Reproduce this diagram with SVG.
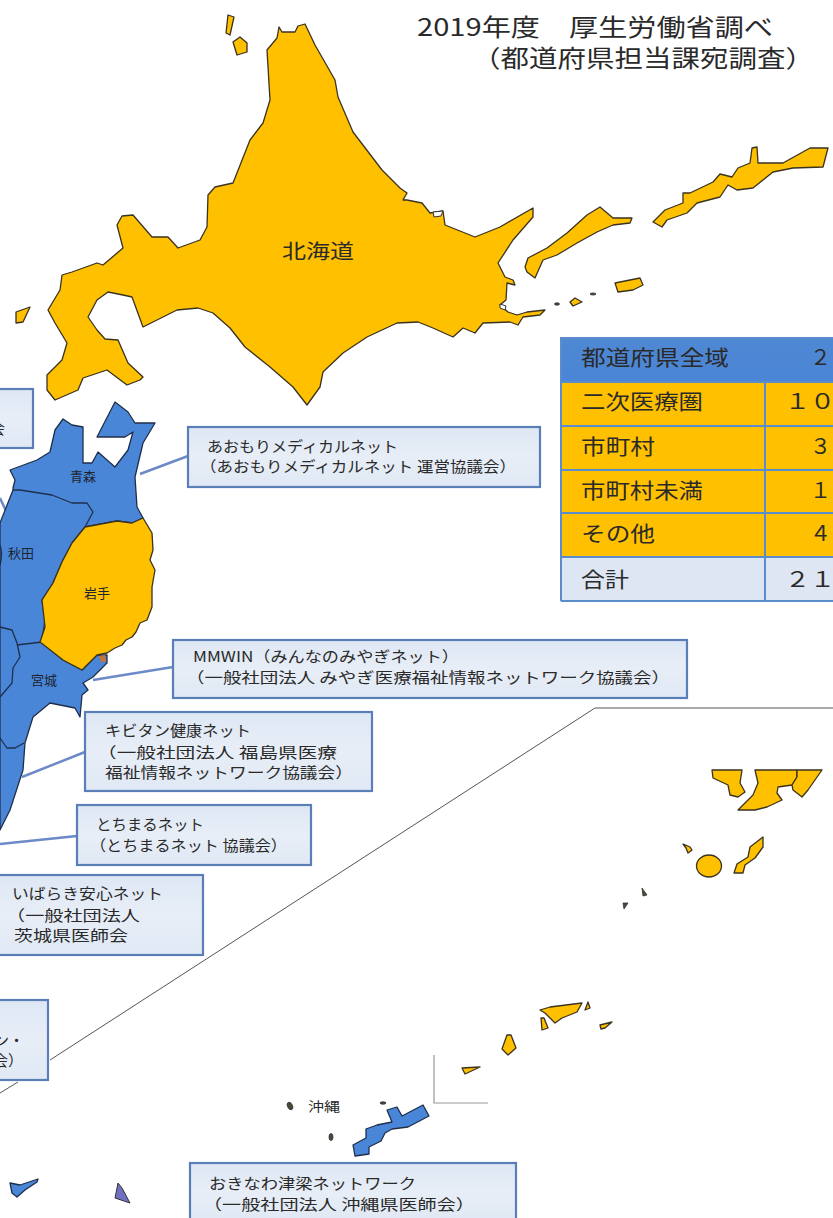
<svg xmlns="http://www.w3.org/2000/svg" width="833" height="1218" viewBox="0 0 833 1218">
<defs>
<linearGradient id="boxFill" x1="0" y1="0" x2="0" y2="1"><stop offset="0" stop-color="#dde7f4"/><stop offset="0.5" stop-color="#e8eef7"/><stop offset="1" stop-color="#dfe8f4"/></linearGradient>
<linearGradient id="headFill" x1="0" y1="0" x2="0" y2="1"><stop offset="0" stop-color="#4f88d2"/><stop offset="1" stop-color="#4a85d6"/></linearGradient>
<filter id="soft" x="-5%" y="-5%" width="110%" height="110%"><feGaussianBlur stdDeviation="0.55"/></filter>
</defs>
<style>
text{font-family:"Noto Sans CJK JP","Noto Sans",sans-serif;fill:#2a2a2a}
.map{filter:url(#soft)}
.o{fill:#ffc000;stroke:#3a3320;stroke-width:1.3;stroke-linejoin:round}
.b{fill:#4a86d8;stroke:#1f2f4a;stroke-width:1.3;stroke-linejoin:round}
.d{fill:#4a4a3a;stroke:#333;stroke-width:.8}
.w{fill:#fff;stroke:#333;stroke-width:1}
.inner{fill:none;stroke:#1f2f4a;stroke-width:1.3;stroke-linejoin:round}
.box{fill:url(#boxFill);stroke:#5a7fb8;stroke-width:2.2}
.t{font-size:15px}
.lab{font-size:13px;fill:#1c2430}
.conn{stroke:#6c8ac8;stroke-width:2.5;fill:none}
.thin{stroke:#555;stroke-width:1;fill:none}
.gray{stroke:#999;stroke-width:1.2;fill:none}
.cell{stroke:#5b8ccb;stroke-width:2}
.tt{font-size:21px}
.ttl{font-size:24px}
</style>

<g id="connectors">
<path class="conn" d="M140 474L188 456"/>
<path class="conn" d="M93 680L173 667"/>
<path class="conn" d="M22 777L85 752"/>
<path class="conn" d="M0 844L77 836"/>
<path class="conn" d="M0 498L7 513"/>
<path class="thin" d="M0 1093L18 1082M50 1060L595 708H833"/>
<path class="gray" d="M434 1055V1103H488"/>
</g>

<g id="hokkaido">
<g class="map">
<path class="o" d="M279 27L282 32L295 32L298 26L305 24L315 45L335 80L338 97L353 132L382 170L400 188L407 193L403 200L407 200L422 203L430 213L443 211L445 225L475 237L500 227L533 208L533 217L513 240L498 263L505 277L513 280L515 285L507 283L506 300L500 305L508 312L517 315L527 312L545 310L540 315L523 317L518 325L510 322L483 323L475 333L463 328L453 337L433 328L418 322L397 323L367 337L343 353L323 372L320 387L307 405L293 387L270 367L245 347L230 328L213 313L198 308L177 310L143 327L132 297L123 295L108 292L97 300L88 317L97 330L105 339L118 340L128 363L143 377L140 380L127 385L107 370L83 378L78 390L55 400L47 390L47 375L62 360L67 343L55 323L48 310L60 290L62 275L72 272L97 263L103 265L123 248L117 225L122 216L133 215L152 237L168 237L178 248L200 240L207 227L208 195L215 187L233 183L250 140L263 123L270 100L267 50L277 38Z"/>
<path class="w" d="M433 212L443 211L441 216L434 217Z"/>
<path class="w" d="M500 304L506 306L505 310L500 308Z"/>
<path class="o" d="M228 15L234 17L230 35L226 33Z"/>
<path class="o" d="M233 42L240 37L247 43L247 52L237 55Z"/>
<path class="o" d="M16 312L30 307L23 322L16 323Z"/>
<path class="o" d="M525 267L528 258L547 248L567 233L587 215L600 207L613 218L632 218L630 223L613 225L597 232L577 243L557 255L543 260L535 278L527 272Z"/>
<path class="o" d="M653 222L665 210L683 203L683 193L690 193L713 182L720 174L732 177L738 168L750 163L752 148L757 147L758 163L783 163L810 148L828 148L823 167L793 168L773 172L753 188L737 190L728 185L720 197L697 203L687 213L667 220L662 227Z"/>
<path class="o" d="M615 283L640 278L643 285L633 290L618 292Z"/>
<path class="o" d="M570 302L575 298L582 302L573 306Z"/>
<ellipse class="d" cx="557" cy="304" rx="2.5" ry="1.2"/>
<ellipse class="d" cx="593" cy="294" rx="3" ry="1"/>
</g>
<text x="318" y="259" font-size="20" text-anchor="middle" textLength="72" lengthAdjust="spacingAndGlyphs">北海道</text>
</g>

<g id="tohoku-blue">
<g class="map">
<path class="b" d="M0 523L13 490L13 488L15 480L10 470L37 460L50 452L55 430L63 419L72 425L83 427L83 463L92 463L98 452L115 467L128 450L133 432L125 437L97 437L115 402L128 412L135 423L155 423L143 443L135 477L137 507L143 518L132 523L117 521L85 527L72 543L62 562L53 583L42 600L45 620L42 640L63 660L82 670L97 655L107 655L107 663L93 677L83 683L88 690L82 695L80 717L75 708L50 703L33 717L25 743L23 770L10 810L0 830Z"/>
<path class="inner" d="M13 490L20 490L52 495L72 503L87 503L93 512L85 527"/>
<path class="inner" d="M0 627L12 630L17 643L20 657L13 668L12 683L0 697"/>
<path class="inner" d="M17 645L42 642"/>
<path class="inner" d="M0 738L7 748L15 748L24 743"/>
<path class="inner" d="M0 545Q3 554 0 565"/>
<path d="M99 656L105 655L106 662L101 662Z" fill="#c87137"/>
</g>
<text class="lab" x="83" y="481" text-anchor="middle">青森</text>
<text class="lab" x="21" y="558" text-anchor="middle">秋田</text>
<text class="lab" x="44" y="685" text-anchor="middle">宮城</text>
</g>

<g id="iwate">
<g class="map">
<path class="o" d="M85 527L117 521L132 523L143 518L152 533L153 550L150 560L155 570L152 587L152 607L147 620L140 623L136 632L132 637L126 640L122 645L115 648L107 653L97 655L82 670L63 660L40 642L45 627L42 600L53 583L62 562L72 543Z"/>
</g>
<text class="lab" x="97" y="598" text-anchor="middle">岩手</text>
</g>

<g id="islands-south" class="map">
<path class="o" d="M712 770H742L740 783L745 792L738 797L730 795L728 785L713 778Z"/>
<path class="o" d="M755 770H797L797 777L792 785L778 787L777 793L782 800L767 807L755 810L738 810L753 795L758 783Z"/>
<path class="o" d="M797 770H822L808 790L802 797L793 790L792 785L797 777Z"/>
<path class="o" d="M683 844L690 847L692 850L688 853L686 848Z"/>
<ellipse class="o" cx="709" cy="866" rx="12.5" ry="11"/>
<path class="o" d="M763 837L763 847L755 858L745 865L743 873L734 873L737 864L748 857L750 847Z"/>
<path class="d" d="M642 888L647 895L643 896Z"/>
<path class="d" d="M623 903L628 903L624 909Z"/>
<path class="o" d="M540 1010L550 1007L582 1003L577 1012L562 1018L555 1023L545 1013Z"/>
<path class="o" d="M585 1010L588 1002L590 1008Z"/>
<path class="o" d="M541 1018L544 1018L548 1028L542 1030Z"/>
<path class="o" d="M600 1025L612 1022L605 1028L601 1029Z"/>
<path class="o" d="M507 1035L511 1035L516 1048L508 1055L502 1049Z"/>
<path class="o" d="M462 1068L480 1067L465 1074Z"/>
</g>

<g id="okinawa">
<g class="map">
<path class="b" d="M353 1145L366 1138L366 1129L377 1125L392 1122L387 1110L397 1107L402 1116L423 1105L429 1116L408 1127L392 1129L385 1133L381 1141L369 1147L369 1154L355 1156Z"/>
<ellipse class="d" cx="290" cy="1106" rx="2.5" ry="4" transform="rotate(-25 290 1106)"/>
<ellipse class="d" cx="331" cy="1137" rx="2" ry="3.5"/>
<ellipse class="d" cx="383" cy="1103" rx="3" ry="1.2"/>
<path class="b" d="M10 1183L20 1185L38 1179L37 1182L25 1190L17 1197L12 1193Z"/>
<path d="M118 1183L122 1188L130 1203L115 1198Z" fill="#6f6fc0" stroke="#333" stroke-width="1"/>
</g>
<text x="324" y="1111" font-size="13" fill="#444" text-anchor="middle" textLength="32" lengthAdjust="spacingAndGlyphs">沖縄</text>
</g>

<g id="title">
<text class="ttl" x="417" y="36" textLength="356" lengthAdjust="spacingAndGlyphs">2019年度　厚生労働省調べ</text>
<text class="ttl" x="472" y="67" textLength="342" lengthAdjust="spacingAndGlyphs">（都道府県担当課宛調査）</text>
</g>

<g id="table">
<rect x="560" y="337" width="280" height="45" fill="url(#headFill)"/>
<rect x="560" y="382" width="280" height="176" fill="#ffc000"/>
<rect x="560" y="557" width="280" height="45" fill="#dde6f2"/>
<path class="cell" fill="none" d="M561 338H840M561 338V601M561 382H840M561 426H840M561 470H840M561 513H840M561 557H840M561 601H840M765 382V601"/>
<g class="tt">
<text x="581" y="365" textLength="148" lengthAdjust="spacingAndGlyphs">都道府県全域</text>
<text x="810" y="365">２</text>
<text x="581" y="409" textLength="122" lengthAdjust="spacingAndGlyphs">二次医療圏</text>
<text x="785" y="409" textLength="50" lengthAdjust="spacingAndGlyphs">１０</text>
<text x="581" y="454" textLength="74" lengthAdjust="spacingAndGlyphs">市町村</text>
<text x="810" y="454">３</text>
<text x="581" y="498" textLength="122" lengthAdjust="spacingAndGlyphs">市町村未満</text>
<text x="810" y="498">１</text>
<text x="581" y="541" textLength="74" lengthAdjust="spacingAndGlyphs">その他</text>
<text x="810" y="541">４</text>
<text x="581" y="587" textLength="48" lengthAdjust="spacingAndGlyphs">合計</text>
<text x="785" y="587" textLength="50" lengthAdjust="spacingAndGlyphs">２１</text>
</g>
</g>

<g id="box-left-top">
<rect class="box" x="-4" y="389" width="37" height="59"/>
<text class="t" x="-10" y="434">会</text>
</g>
<g id="box-aomori">
<rect class="box" x="188" y="427" width="352" height="60"/>
<text class="t" x="207" y="452" textLength="191" lengthAdjust="spacingAndGlyphs">あおもりメディカルネット</text>
<text class="t" x="200" y="472" textLength="316" lengthAdjust="spacingAndGlyphs">（あおもりメディカルネット 運営協議会）</text>
</g>
<g id="box-miyagi">
<rect class="box" x="173" y="640" width="514" height="58"/>
<text class="t" x="193" y="662" textLength="266" lengthAdjust="spacingAndGlyphs">MMWIN（みんなのみやぎネット）</text>
<text class="t" x="186" y="683" textLength="484" lengthAdjust="spacingAndGlyphs">（一般社団法人 みやぎ医療福祉情報ネットワーク協議会）</text>
</g>
<g id="box-fukushima">
<rect class="box" x="85" y="712" width="287" height="79"/>
<text class="t" x="105" y="736" textLength="146" lengthAdjust="spacingAndGlyphs">キビタン健康ネット</text>
<text class="t" x="97" y="758" textLength="240" lengthAdjust="spacingAndGlyphs">（一般社団法人 福島県医療</text>
<text class="t" x="105" y="778" textLength="248" lengthAdjust="spacingAndGlyphs">福祉情報ネットワーク協議会）</text>
</g>
<g id="box-tochigi">
<rect class="box" x="77" y="805" width="234" height="60"/>
<text class="t" x="96" y="830" textLength="108" lengthAdjust="spacingAndGlyphs">とちまるネット</text>
<text class="t" x="90" y="851" textLength="197" lengthAdjust="spacingAndGlyphs">（とちまるネット 協議会）</text>
</g>
<g id="box-ibaraki">
<rect class="box" x="-4" y="875" width="207" height="80"/>
<text class="t" x="12" y="899" textLength="151" lengthAdjust="spacingAndGlyphs">いばらき安心ネット</text>
<text class="t" x="6" y="921" textLength="134" lengthAdjust="spacingAndGlyphs">（一般社団法人</text>
<text class="t" x="14" y="941" textLength="114" lengthAdjust="spacingAndGlyphs">茨城県医師会</text>
</g>
<g id="box-left-bottom">
<rect class="box" x="-4" y="1000" width="52" height="80"/>
<text class="t" x="-6" y="1046">ン・</text>
<text class="t" x="-7" y="1066">会）</text>
</g>
<g id="box-okinawa">
<rect class="box" x="190" y="1163" width="326" height="60"/>
<text class="t" x="209" y="1189" textLength="207" lengthAdjust="spacingAndGlyphs">おきなわ津梁ネットワーク</text>
<text class="t" x="203" y="1210" textLength="272" lengthAdjust="spacingAndGlyphs">（一般社団法人 沖縄県医師会）</text>
</g>
</svg>
